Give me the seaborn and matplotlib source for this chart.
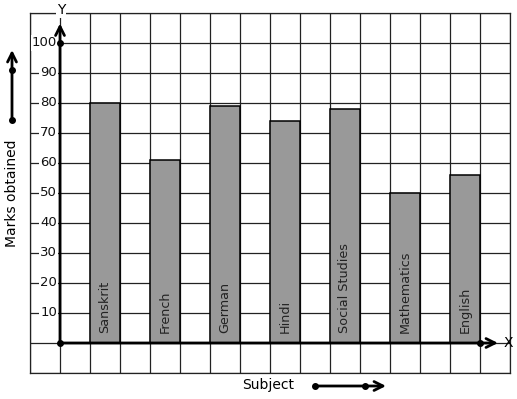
import numpy as np
import pandas as pd
import matplotlib
matplotlib.use("Agg")
import matplotlib.pyplot as plt
import seaborn as sns

subjects = ["Sanskrit", "French", "German", "Hindi", "Social Studies", "Mathematics", "English"]
marks = [80, 61, 79, 74, 78, 50, 56]
ytick_values = [10, 20, 30, 40, 50, 60, 70, 80, 90, 100]
ytick_labels = ["10", "20", "30", "40", "50", "60", "70", "80", "90", "100"]

df = pd.DataFrame({"Subject": subjects, "Marks": marks})

W, H = 517, 399
fig = plt.figure(figsize=(W / 100, H / 100), dpi=100)
ax = fig.add_axes([30 / W, (H - 373) / H, 480 / W, 360 / H])

sns.barplot(data=df, x="Subject", y="Marks", order=subjects, color="#999999",
            width=0.5, edgecolor="black", linewidth=1.1, saturation=1, ax=ax, zorder=2)

ax.set_xlim(-1.25, 6.75)
ax.set_ylim(-10, 110)
ax.set_xticks(np.arange(-1.25, 6.76, 0.5))
ax.set_yticks(np.arange(-10, 111, 10))
ax.set_xticklabels([])
ax.set_yticklabels([])
ax.tick_params(length=0)
ax.grid(True, color="#222222", lw=0.9)
ax.set_axisbelow(True)
for s in ax.spines.values():
    s.set_color("#222222")
    s.set_linewidth(0.9)
ax.set_xlabel("")
ax.set_ylabel("")

# axes with arrows
x0 = -0.75
ax.annotate("", xy=(x0, 106.5), xytext=(x0, 0),
            arrowprops=dict(arrowstyle="->", lw=2, color="black", mutation_scale=16,
                            shrinkA=0, shrinkB=0), zorder=5)
ax.annotate("", xy=(6.55, 0), xytext=(x0, 0),
            arrowprops=dict(arrowstyle="->", lw=2, color="black", mutation_scale=16,
                            shrinkA=0, shrinkB=0), zorder=5)
ax.plot([x0, x0, 6.25], [0, 100, 0], "o", color="black", ms=4, zorder=6, clip_on=False)

# tick labels
for v, lab in zip(ytick_values, ytick_labels):
    ax.text(-0.8, v, lab, ha="right", va="center", fontsize=9.5, color="#111111",
            bbox=dict(facecolor="white", edgecolor="none", pad=0.8), zorder=4)

# bar labels
for i, name in enumerate(subjects):
    ax.text(i, 3.3, name, rotation=90, ha="center", va="bottom", fontsize=9.2,
            color="#222222", zorder=4)

# axis letters
fig.text(61 / W, 1 - 10 / H, "Y", ha="center", va="center", fontsize=10,
         bbox=dict(facecolor="white", edgecolor="none", pad=0.5))
fig.text(508 / W, 1 - 343 / H, "X", ha="center", va="center", fontsize=10)

# left label with arrow
fig.text(12 / W, 1 - 193 / H, "Marks obtained", rotation=90, ha="center", va="center", fontsize=10)
ax.annotate("", xy=(12, H - 50), xytext=(12, H - 120), xycoords="figure pixels",
            textcoords="figure pixels",
            arrowprops=dict(arrowstyle="->", lw=2, color="black", mutation_scale=16,
                            shrinkA=0, shrinkB=0), annotation_clip=False)
fig.lines.append(plt.Line2D([12 / W, 12 / W], [1 - 120 / H, 1 - 70 / H], marker="o",
                            ls="none", color="black", ms=4, transform=fig.transFigure))

# bottom label with arrow
fig.text(268 / W, 1 - 385 / H, "Subject", ha="center", va="center", fontsize=10)
ax.annotate("", xy=(386, H - 386), xytext=(315, H - 386), xycoords="figure pixels",
            textcoords="figure pixels",
            arrowprops=dict(arrowstyle="->", lw=2, color="black", mutation_scale=16,
                            shrinkA=0, shrinkB=0), annotation_clip=False)
fig.lines.append(plt.Line2D([315 / W, 365 / W], [1 - 386 / H, 1 - 386 / H], marker="o",
                            ls="none", color="black", ms=4, transform=fig.transFigure))

fig.savefig("out.png", dpi=100, facecolor="white")
